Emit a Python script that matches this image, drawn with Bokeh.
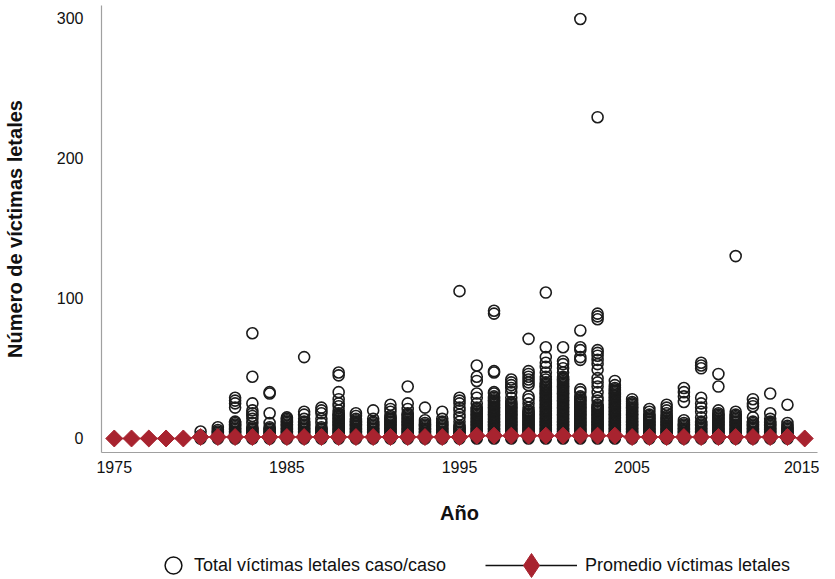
from bokeh.plotting import figure
from bokeh.models import ColumnDataSource, Legend, LegendItem, FixedTicker, Range1d
from bokeh.layouts import column
from bokeh.embed import file_html
from bokeh.resources import INLINE
import math

FONT = "Liberation Sans"

# ---- data ----
case_years = list(range(1980, 2015))
# every case value from 0 up to this one appears (dense stack) in each year
dense_max = [2, 6, 12, 8, 8, 14, 12, 8, 18, 14,
             12, 16, 18, 11, 12, 9, 22, 30, 26, 20,
             40, 44, 30, 24, 36, 26, 17, 16, 11, 12,
             18, 17, 12, 12, 9]
# separate cases above the dense stack
outliers = [
    [5], [8], [22, 25, 27, 29], [11, 14, 16, 18, 20, 25, 44, 75], [11, 18, 32, 33],
    [15], [14, 17, 19, 58], [11, 14, 18, 20, 22], [20, 23, 25, 28, 33, 45, 47], [16, 18],
    [14, 20], [19, 21, 24], [21, 25, 37], [13, 22], [14, 19],
    [12, 15, 17, 20, 22, 25, 27, 29, 105], [25, 29, 32, 41, 44, 52], [32, 33, 47, 48, 89, 91],
    [29, 33, 36, 38, 40, 42], [22, 25, 28, 30, 38, 40, 42, 44, 46, 48, 71],
    [42, 44, 47, 51, 54, 58, 65, 104], [47, 50, 53, 55, 65], [33, 35, 56, 58, 63, 65, 77, 299],
    [27, 29, 33, 37, 40, 43, 49, 53, 56, 59, 61, 63, 85, 87, 89, 229], [38, 41],
    [28], [19, 21], [18, 20, 22, 24], [13, 26, 30, 33, 36], [15, 19, 22, 25, 29, 50, 52, 54],
    [20, 37, 46], [19, 130], [15, 23, 25, 28], [14, 18, 32], [11, 24],
]
avg_years = list(range(1975, 2016))
avg_values = [0, 0, 0, 0, 0, 1, 1, 1, 1, 1,
              1, 1, 1, 1, 1, 1, 1, 1, 1, 1,
              1, 2, 2, 2, 2, 2, 2, 2, 2, 2,
              1, 1, 1, 1, 1, 1, 1, 1, 1, 1, 0]
x_ticks = [1975, 1985, 1995, 2005, 2015]
y_ticks = [0, 100, 200, 300]

# build the case table
cx, cy = [], []
for yr, top, extra in zip(case_years, dense_max, outliers):
    for v in list(range(0, top + 1)) + extra:
        cx.append(yr)
        cy.append(v)

RED = "#a8232f"
INK = "#1c1c1c"

p = figure(width=819, height=530, output_backend="svg", toolbar_location=None,
           x_range=Range1d(1974.26, 2015.74), y_range=Range1d(-10, 308.6),
           min_border_left=91, min_border_right=2, min_border_top=5, min_border_bottom=78)
p.outline_line_color = None
p.xgrid.visible = False
p.ygrid.visible = False
p.background_fill_color = "white"

src_cases = ColumnDataSource(dict(x=cx, y=cy))
p.scatter("x", "y", source=src_cases, marker="circle", size=11, fill_color=None,
          line_color=INK, line_width=1.6)

src_avg = ColumnDataSource(dict(x=avg_years, y=avg_values))
p.line("x", "y", source=src_avg, line_color=RED, line_width=1.5)
p.scatter("x", "y", source=src_avg, marker="square", angle=math.pi / 4, size=12,
          fill_color=RED, line_color=RED)

# axes
for ax in (p.xaxis[0], p.yaxis[0]):
    ax.major_tick_line_color = None
    ax.minor_tick_line_color = None
    ax.axis_line_color = "#a0a0a0"
    ax.axis_line_width = 1.2
    ax.major_label_text_font = FONT
    ax.major_label_text_font_size = "16px"
    ax.major_label_text_color = "#111111"
    ax.axis_label_text_font = FONT
    ax.axis_label_text_font_style = "bold"
    ax.axis_label_text_font_size = "20px"
    ax.axis_label_text_color = "#111111"

p.xaxis.ticker = FixedTicker(ticks=x_ticks)
p.yaxis.ticker = FixedTicker(ticks=y_ticks)
p.xaxis.axis_label = "Año"
p.yaxis.axis_label = "Número de víctimas letales"
p.xaxis.major_label_standoff = 2
p.yaxis.major_label_standoff = 12
p.xaxis.axis_label_standoff = 26
p.yaxis.axis_label_standoff = 28

# ---- legend strip (separate figure so it is not clipped) ----
lf = figure(width=819, height=48, output_backend="svg", toolbar_location=None,
            x_range=Range1d(0, 1), y_range=Range1d(0, 1),
            x_axis_location=None, y_axis_location=None,
            min_border_left=0, min_border_right=0, min_border_top=0, min_border_bottom=0)
lf.outline_line_color = None
lf.xgrid.visible = False
lf.ygrid.visible = False

# sample glyphs kept outside the strip's visible range; only their legend swatches show
offscreen = ColumnDataSource(dict(x=[-5, -4], y=[-5, -5]))
leg_circ = lf.scatter("x", "y", source=offscreen, marker="circle", size=17, fill_color=None,
                      line_color="#111111", line_width=1.5)
leg_line = lf.line("x", "y", source=offscreen, line_color="#111111", line_width=1.5)
leg_dia = lf.scatter("x", "y", source=offscreen, marker="diamond", size=24,
                     fill_color=RED, line_color=RED)

common = dict(orientation="horizontal", border_line_color=None, background_fill_alpha=0,
              padding=0, margin=0, label_text_font=FONT, label_text_font_size="18px",
              label_text_color="#111111", label_height=20)
lg1 = Legend(items=[LegendItem(label="Total víctimas letales caso/caso", renderers=[leg_circ])],
             location=(51, -8), glyph_width=42, glyph_height=42, label_standoff=-2, **common)
lg2 = Legend(items=[LegendItem(label="Promedio víctimas letales", renderers=[leg_line, leg_dia])],
             location=(384, -17), glyph_width=92, glyph_height=60, label_standoff=8, **common)
lf.add_layout(lg1, "center")
lf.add_layout(lg2, "center")

layout = column(p, lf, spacing=0)
open("out.html", "w").write(file_html(layout, INLINE))
